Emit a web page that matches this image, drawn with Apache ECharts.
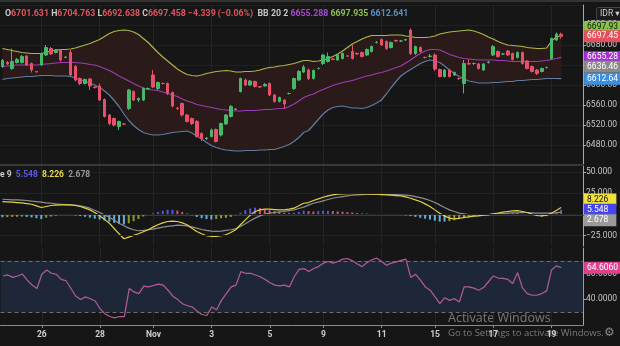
<!DOCTYPE html>
<html><head><meta charset="utf-8">
<script src="https://cdn.jsdelivr.net/npm/echarts@6/dist/echarts.min.js"></script>
<style>html,body{margin:0;padding:0;background:#161616;overflow:hidden}#c{width:620px;height:346px}</style>
</head><body><div id="c"></div>
<script>
// ---- data ----
const slotCount = 120; // 116 bars + empty right margin
const tickLabels = ['26','28','Nov','3','5','9','11','15','17','19'];
const tickBars = [8,20,31,43,55,66,78,89,101,113];

const opens = [6637,6645,6633,6645,6645,6658,6643,6627,6640,6660,6673,6665,6670,6655,6665,6637,6613,6603,6612,6596,6598,6571,6540,6533,6517,6522,6553,6587,6570,6570,6592,6620,6593,6603,6603,6585,6554,6563,6540,6533,6527,6503,6493,6497,6511,6500,6522,6537,6551,6587,6610,6600,6607,6597,6598,6603,6580,6567,6570,6583,6593,6610,6626,6630,6613,6633,6643,6647,6652,6650,6653,6658,6667,6663,6665,6660,6667,6685,6691,6687,6675,6689,6688,6690,6710,6663,6675,6655,6657,6660,6631,6617,6630,6620,6613,6603,6643,6643,6642,6630,6645,6660,6667,6662,6668,6663,6655,6665,6648,6637,6630,6627,6635,6653,6690,6701.631];
const highs = [6652,6648,6673,6654,6660,6660,6645,6628,6665,6680,6676,6672,6672,6657,6670,6640,6615,6613,6614,6597,6603,6573,6542,6535,6529,6523,6592,6589,6575,6595,6595,6630,6607,6605,6605,6587,6556,6565,6542,6535,6530,6505,6496,6513,6513,6525,6542,6560,6554,6615,6613,6610,6609,6598,6604,6605,6582,6577,6572,6585,6615,6630,6640,6633,6631,6635,6662,6665,6654,6662,6665,6660,6680,6665,6667,6673,6679,6688,6693,6689,6687,6691,6690,6692,6713,6679,6677,6657,6662,6663,6633,6632,6632,6627,6615,6650,6651,6645,6644,6644,6648,6680,6669,6664,6670,6665,6667,6667,6650,6639,6632,6635,6637,6695,6705,6704.763];
const lows = [6634,6640,6630,6643,6643,6638,6625,6625,6638,6658,6660,6663,6647,6654,6618,6607,6600,6601,6590,6593,6568,6535,6520,6517,6510,6520,6550,6568,6566,6568,6590,6594,6590,6601,6580,6555,6550,6537,6525,6520,6495,6488,6490,6495,6485,6497,6520,6535,6550,6585,6598,6598,6595,6594,6597,6578,6565,6565,6553,6581,6590,6608,6624,6610,6611,6631,6640,6645,6650,6648,6651,6656,6651,6660,6655,6658,6665,6683,6678,6670,6673,6686,6686,6688,6660,6660,6665,6653,6655,6628,6615,6615,6615,6618,6610,6583,6640,6640,6631,6628,6643,6658,6655,6660,6658,6649,6653,6641,6631,6625,6620,6625,6633,6650,6688,6692.638];
const closes = [6649,6642,6647,6651,6657,6640,6630,6626,6663,6675,6662,6670,6650,6656,6620,6610,6603,6611,6598,6595,6570,6537,6523,6520,6527,6522,6590,6570,6573,6593,6593,6596,6605,6603,6583,6558,6553,6540,6527,6523,6497,6493,6494,6510,6487,6523,6540,6557,6552,6613,6600,6608,6597,6596,6601,6580,6567,6575,6562,6583,6613,6627,6636,6613,6629,6633,6660,6657,6651,6660,6663,6658,6653,6662,6657,6671,6677,6685,6680,6673,6685,6688,6688,6691,6663,6677,6667,6655,6658,6632,6617,6630,6617,6625,6613,6643,6642,6643,6633,6642,6646,6677,6657,6662,6660,6651,6665,6643,6633,6627,6623,6633,6635,6693,6702,6697.458];
const lastChange = -4.339, lastChangePct = -0.06;

const bbUpper = [6673,6671,6669,6667,6665,6664,6663,6663,6663,6665,6668,6670,6671,6671,6672,6674,6677,6680,6683,6687,6691,6697,6703,6707,6709,6710,6709,6706,6701,6693,6685,6675,6665,6656,6648,6640,6632,6626,6621,6619,6618,6620,6623,6625,6627,6628,6629,6628,6626,6626,6627,6627,6628,6630,6633,6635,6636,6638,6639,6641,6643,6646,6649,6649,6647,6648,6650,6653,6657,6662,6668,6675,6682,6687,6692,6696,6699,6699,6699,6699,6700,6700,6700,6698,6697,6695,6695,6695,6696,6698,6702,6704,6706,6707,6708,6709,6710,6708,6705,6701,6696,6692,6687,6683,6680,6679,6678,6677,6675,6674,6673,6673,6674,6688,6696,6697.935];
const bbMid = [6637,6638,6639,6640,6640,6640,6640,6640,6641,6642,6643,6644,6645,6645,6645,6645,6644,6643,6641,6640,6637,6633,6629,6624,6618,6613,6608,6603,6598,6594,6591,6590,6589,6586,6583,6580,6577,6572,6568,6565,6561,6559,6557,6555,6553,6551,6550,6549,6548,6548,6549,6549,6549,6550,6551,6551,6552,6553,6553,6557,6562,6568,6575,6579,6582,6587,6591,6595,6599,6602,6605,6607,6609,6612,6615,6618,6620,6623,6625,6628,6631,6635,6638,6644,6650,6657,6663,6668,6671,6671,6670,6666,6661,6658,6655,6653,6652,6651,6650,6650,6650,6650,6649,6649,6648,6647,6647,6647,6647,6647,6647,6648,6649,6651,6653,6655.288];
const bbLower = [6611,6613,6614,6615,6616,6617,6617,6618,6619,6619,6619,6618,6618,6618,6617,6614,6610,6607,6604,6600,6595,6588,6580,6569,6557,6542,6529,6519,6511,6505,6502,6500,6500,6501,6503,6505,6506,6507,6508,6504,6498,6492,6485,6479,6475,6472,6470,6469,6468,6468,6469,6469,6469,6470,6470,6471,6471,6474,6477,6481,6487,6495,6505,6509,6520,6531,6542,6550,6555,6557,6558,6556,6554,6554,6553,6555,6559,6564,6570,6582,6595,6607,6618,6625,6631,6637,6643,6647,6650,6648,6645,6638,6630,6623,6617,6612,6608,6606,6604,6604,6604,6605,6605,6606,6607,6607,6609,6609,6610,6611,6611,6612,6613,6613,6613,6612.641];
const refPrice = 6636.46;

const macdLine = [15.3,14.9,14.5,14.1,13.7,12.9,12.1,10.2,8.2,9.4,10.6,11.0,11.3,11.3,11.3,10.6,9.4,7.4,5.4,2.3,-1.7,-5.6,-10.4,-16.7,-23.0,-28.9,-26.9,-24.9,-23.0,-20.6,-18.2,-15.1,-12.3,-10.0,-8.4,-8.0,-8.4,-10.0,-12.3,-16.3,-20.2,-23.0,-25.3,-26.1,-26.1,-25.3,-24.2,-21.4,-18.2,-12.3,-6.4,-0.9,3.5,5.4,6.2,6.2,5.8,5.4,5.4,6.2,7.4,10.2,13.3,14.1,16.5,18.4,20.4,22.0,23.2,24.0,24.4,24.8,24.8,24.8,24.4,24.4,24.0,24.0,23.6,23.2,22.8,22.4,22.0,20.8,19.2,17.3,15.3,12.5,9.4,5.4,1.5,-1.7,-4.4,-5.2,-4.8,-3.6,-2.9,-2.1,-1.7,-0.9,-0.5,0.7,1.5,2.7,3.5,4.2,4.6,3.5,2.3,0.3,-1.3,-1.7,-0.9,1.5,4.6,8.226];
const signalLine = [18.0,17.7,17.3,17.3,16.9,16.5,15.7,15.3,14.5,13.7,13.3,12.5,12.1,11.7,11.3,11.0,10.2,9.0,7.4,5.0,2.3,-0.5,-3.3,-6.8,-10.4,-13.5,-16.3,-18.2,-19.4,-19.0,-18.2,-17.5,-16.3,-15.1,-14.3,-13.5,-12.7,-13.1,-13.5,-14.7,-16.3,-17.9,-19.0,-19.8,-20.2,-19.8,-19.0,-18.2,-17.1,-14.3,-11.1,-7.6,-4.4,-1.7,0.3,1.5,2.3,3.1,3.5,4.6,5.4,7.0,8.6,11.0,13.3,14.5,16.1,17.7,19.2,20.4,21.2,22.0,22.8,23.2,23.6,24.0,24.0,24.0,24.0,24.0,23.6,23.6,23.2,22.8,22.4,21.2,20.0,18.4,16.5,14.1,11.3,8.2,5.4,3.5,1.5,0.7,-0.1,-0.5,-0.5,-0.5,-0.1,0.3,0.7,1.1,1.5,1.9,1.9,2.3,2.3,1.9,1.5,1.5,1.5,1.5,1.9,2.678];
const macdHist = [-3.4,-3.2,-3.0,-2.8,-2.6,-3.0,-3.6,-4.5,-5.5,-3.8,-2.5,-1.5,-0.8,-0.4,-0.5,-1.2,-2.0,-2.8,-3.8,-5.0,-6.0,-7.2,-8.5,-10.0,-11.5,-12.0,-10.5,-8.0,-5.5,-2.5,-0.5,1.5,3.0,4.5,5.5,5.5,4.5,3.0,1.2,-1.0,-3.0,-4.5,-5.5,-6.0,-5.5,-4.5,-4.0,-3.0,-1.0,2.0,5.0,7.0,8.0,7.5,6.0,5.0,4.0,3.0,2.0,2.0,2.0,3.0,4.5,4.0,3.5,4.0,4.3,4.3,4.0,3.5,3.2,2.8,2.4,1.8,1.2,1.0,0.6,0.3,0.1,-0.2,-0.4,-0.6,-0.8,-1.2,-2.0,-3.0,-4.0,-5.0,-6.0,-7.5,-8.5,-8.5,-8.0,-7.0,-5.5,-4.5,-3.5,-2.5,-1.5,-0.8,-0.4,0.5,1.0,1.5,1.8,2.0,2.2,1.0,0.5,-0.5,-2.0,-2.5,-2.0,0.5,3.0,5.548];
const macdTicks = [50,25,0,-25];

const rsi = [58.2,59.0,57.1,58.2,59.7,55.0,51.1,48.4,59.5,62.9,60.3,59.5,55.5,54.5,48.4,42.4,39.8,41.9,40.5,38.7,32.7,28.7,26.6,25.6,26.6,26.6,48.4,45.8,44.5,50.3,49.7,50.8,51.9,51.1,47.1,42.4,39.8,36.6,35.0,34.0,30.8,28.2,27.4,34.0,31.9,39.2,44.5,49.7,51.1,61.6,60.3,60.3,59.0,57.6,55.5,52.9,51.1,50.5,51.1,49.7,57.6,63.4,64.0,61.6,64.0,65.5,68.2,69.5,68.2,69.5,71.3,71.8,70.0,67.6,65.5,68.7,70.8,72.1,69.5,66.6,68.2,69.2,70.3,71.3,57.1,59.5,55.0,49.7,47.1,41.9,36.6,41.3,39.2,40.5,37.9,49.7,49.7,48.7,47.1,49.2,53.7,58.2,56.6,56.3,55.5,52.4,60.8,49.0,44.5,43.2,43.2,44.5,46.6,62.9,66.1,64.606];
const rsiUpper = 70, rsiLower = 30;

// ---- build ----
const FONT = 'Roboto, "DejaVu Sans", sans-serif';
const cats = Array.from({length: slotCount}, (_, i) => String(i));
const labelAt = {};
tickBars.forEach((b, k) => { labelAt[b] = tickLabels[k]; });
const hasLabel = (idx) => labelAt[idx] !== undefined;
const last = closes.length - 1;
const trunc2 = v => (Math.floor(v * 100 + 1e-6) / 100).toFixed(2);

const C = {
  bg: '#161616', up: '#45b86a', down: '#e6506a',
  upper: '#adb64a', mid: '#9e3cb4', lower: '#5e7ea3', fill: '#2a1a19',
  macd: '#e3cf48', signal: '#8e8e8e', rsi: '#b65b9a', rsiBand: '#1e2737',
  grid: '#242424', axis: '#a8a8a8', text: '#c6c6c6'
};
const histColor = macdHist.map((v, i) => {
  const p = i > 0 ? macdHist[i - 1] : v;
  if (v >= 0) return v >= p ? '#5656e0' : '#d2546f';
  return v <= p ? '#62b2de' : '#8d9a2c';
});

function tag(value, text, bg, fg, off) {
  return { yAxis: value, label: { show: true, position: 'end', distance: 1, offset: [0, off || 0],
    formatter: () => text, color: fg, opacity: 1, backgroundColor: bg, padding: [2, 8, 1, 3],
    fontSize: 8.5, fontFamily: FONT } };
}
const clearLine = { color: 'rgba(0,0,0,0)', width: 0 };
const hiddenLine = { opacity: 0 };

const xBase = (gi) => ({
  type: 'category', gridIndex: gi, data: cats, boundaryGap: true,
  axisLine: { show: true, lineStyle: { color: gi === 2 ? '#8a8a8a' : '#383838', width: gi === 2 ? 1 : 2 } },
  axisTick: { show: gi === 2, alignWithLabel: true, interval: (i) => hasLabel(i), length: 3, lineStyle: { color: '#8a8a8a' } },
  axisLabel: { show: gi === 2, interval: 0, margin: 5, fontSize: 8.5, fontWeight: 'bold', color: '#cfcfcf', fontFamily: FONT,
    formatter: (v, i) => labelAt[i] || '' },
  splitLine: { show: true, alignWithLabel: true, interval: (i) => hasLabel(i), lineStyle: { color: C.grid, width: 1 } }
});
const yBase = {
  type: 'value', position: 'right',
  axisLine: { show: true, lineStyle: { color: C.axis } },
  axisTick: { show: true, length: 3, lineStyle: { color: C.axis } },
  axisLabel: { margin: 3, fontSize: 8.5, color: C.text, fontFamily: FONT }
};
const HF = 8.8;

const option = {
  backgroundColor: C.bg,
  animation: false,
  title: [
    { left: 5, top: 9, padding: 0, textStyle: { fontSize: HF, fontFamily: FONT, rich: {
        k: { color: '#c8c8c8', fontSize: HF, fontFamily: FONT },
        r: { color: '#e0535f', fontSize: HF, fontFamily: FONT },
        p: { color: '#a64bd0', fontSize: HF, fontFamily: FONT },
        g: { color: '#8cc152', fontSize: HF, fontFamily: FONT },
        b: { color: '#5b8fc9', fontSize: HF, fontFamily: FONT } } },
      text: `{k|O}{r|${opens[last].toFixed(3)}} {k|H}{r|${highs[last].toFixed(3)}} {k|L}{r|${lows[last].toFixed(3)}} {k|C}{r|${closes[last].toFixed(3)}} {r|${String(lastChange).replace('-', '\u2212')} (${String(lastChangePct.toFixed(2)).replace('-', '\u2212')}%)}  {k|BB 20 2} {p|${bbMid[last].toFixed(3)}} {g|${bbUpper[last].toFixed(3)}} {b|${bbLower[last].toFixed(3)}}` },
    { left: 0, top: 170, padding: 0, textStyle: { fontSize: 8.5, fontFamily: FONT, rich: {
        k: { color: '#c8c8c8', fontSize: 8.5, fontFamily: FONT },
        h: { color: '#5a5ae8', fontSize: 8.5, fontFamily: FONT },
        m: { color: '#e8d84a', fontSize: 8.5, fontFamily: FONT, fontWeight: 'bold' },
        s: { color: '#9a9a9a', fontSize: 8.5, fontFamily: FONT } } },
      text: `{k|e 9}  {h|${macdHist[last].toFixed(3)}}  {m|${macdLine[last].toFixed(3)}}  {s|${signalLine[last].toFixed(3)}}` }
  ],
  grid: [
    { left: 0, right: 32, top: 5, height: 160 },
    { left: 0, right: 32, top: 166, height: 80 },
    { left: 0, right: 32, top: 248, height: 77 }
  ],
  xAxis: [xBase(0), xBase(1), xBase(2)],
  yAxis: [
    Object.assign({}, yBase, { gridIndex: 0, min: 6440, max: 6760, interval: 40,
      axisLabel: Object.assign({}, yBase.axisLabel, { showMinLabel: false, showMaxLabel: false, formatter: v => v.toFixed(2) }),
      splitLine: { show: true, lineStyle: { color: '#202020' } } }),
    Object.assign({}, yBase, { gridIndex: 1, min: -37.5, max: 57.5, interval: 12.5,
      axisTick: { show: true, length: 3, customValues: macdTicks, lineStyle: { color: C.axis } },
      axisLabel: Object.assign({}, yBase.axisLabel, { customValues: macdTicks,
        formatter: v => macdTicks.indexOf(v) >= 0 ? v.toFixed(3).replace('-', '\u2212') : '' }),
      splitLine: { show: false } }),
    Object.assign({}, yBase, { gridIndex: 2, min: 20, max: 80, interval: 20,
      axisLabel: Object.assign({}, yBase.axisLabel, { showMinLabel: false, showMaxLabel: false, formatter: v => v.toFixed(4) }),
      splitLine: { show: false } })
  ],
  series: [
    { name: 'bbBase', type: 'line', z: 1, xAxisIndex: 0, yAxisIndex: 0, data: bbLower, stack: 'bb', symbol: 'none', silent: true, lineStyle: hiddenLine },
    { name: 'bbFill', type: 'line', z: 1, xAxisIndex: 0, yAxisIndex: 0, data: bbUpper.map((u, i) => u - bbLower[i]), stack: 'bb', symbol: 'none', silent: true,
      lineStyle: hiddenLine, areaStyle: { color: C.fill, opacity: 1 } },
    { name: 'upper', type: 'line', z: 2, xAxisIndex: 0, yAxisIndex: 0, data: bbUpper, symbol: 'none', lineStyle: { color: C.upper, width: 1.2 } },
    { name: 'lower', type: 'line', z: 2, xAxisIndex: 0, yAxisIndex: 0, data: bbLower, symbol: 'none', lineStyle: { color: C.lower, width: 1.2 } },
    { name: 'basis', type: 'line', z: 2, xAxisIndex: 0, yAxisIndex: 0, data: bbMid, symbol: 'none', lineStyle: { color: C.mid, width: 1.2 } },
    { name: 'price', type: 'candlestick', z: 5, xAxisIndex: 0, yAxisIndex: 0, barWidth: 3, large: false, progressive: 0,
      data: opens.map((o, i) => [o, closes[i], lows[i], highs[i]]),
      itemStyle: { color: C.up, color0: C.down, borderColor: C.up, borderColor0: C.down, borderWidth: 1 },
      markLine: { silent: true, symbol: ['none', 'none'], animation: false, lineStyle: clearLine,
        data: [
          tag(bbUpper[last], trunc2(bbUpper[last]), '#86c545', '#111', -9),
          tag(closes[last], trunc2(closes[last]), '#e6505e', '#fff'),
          tag(bbMid[last], trunc2(bbMid[last]), '#a62fd8', '#fff'),
          tag(refPrice, trunc2(refPrice), '#8a8a8a', '#fff'),
          tag(bbLower[last], trunc2(bbLower[last]), '#3d8fe0', '#fff')
        ] } },
    { name: 'hist', type: 'bar', z: 2, xAxisIndex: 1, yAxisIndex: 1, barWidth: 2,
      data: macdHist.map((v, i) => ({ value: v, itemStyle: { color: histColor[i] } })),
      markLine: { silent: true, symbol: ['none', 'none'], animation: false, label: { show: false },
        lineStyle: { color: '#222', type: 'solid', width: 1 }, data: macdTicks.map(v => ({ yAxis: v })) } },
    { name: 'signal', type: 'line', z: 3, xAxisIndex: 1, yAxisIndex: 1, data: signalLine, symbol: 'none', lineStyle: { color: C.signal, width: 1.2 } },
    { name: 'macd', type: 'line', z: 4, xAxisIndex: 1, yAxisIndex: 1, data: macdLine, symbol: 'none', lineStyle: { color: C.macd, width: 1.2 },
      markLine: { silent: true, symbol: ['none', 'none'], animation: false, lineStyle: clearLine,
        data: [
          tag(macdLine[last], macdLine[last].toFixed(3), '#f0e03a', '#111', -8),
          tag(macdHist[last], macdHist[last].toFixed(3), '#4646ee', '#fff'),
          tag(signalLine[last], signalLine[last].toFixed(3), '#9a9a9a', '#fff', 8)
        ] } },
    { name: 'rsiBand', type: 'line', z: 1, xAxisIndex: 2, yAxisIndex: 2, data: rsi, symbol: 'none', silent: true, lineStyle: hiddenLine,
      markArea: { silent: true, itemStyle: { color: C.rsiBand }, data: [[{ yAxis: rsiLower }, { yAxis: rsiUpper }]] },
      markLine: { silent: true, symbol: ['none', 'none'], animation: false, label: { show: false },
        lineStyle: { color: '#6e6e6e', type: [4, 3], width: 1 }, data: [{ yAxis: rsiUpper }, { yAxis: rsiLower }] } },
    { name: 'rsi', type: 'line', z: 3, xAxisIndex: 2, yAxisIndex: 2, data: rsi, symbol: 'none', lineStyle: { color: C.rsi, width: 1.2 },
      markLine: { silent: true, symbol: ['none', 'none'], animation: false, lineStyle: clearLine,
        data: [tag(rsi[last], rsi[last].toFixed(4), '#e0408c', '#fff')] } }
  ],
  graphic: [
    { type: 'rect', left: 0, top: 0, shape: { width: 620, height: 2 }, style: { fill: '#333' }, silent: true },
    { type: 'rect', left: 596, top: 7, shape: { width: 30, height: 13, r: 2 }, style: { fill: '#1b1b1b', stroke: '#454545' }, silent: true },
    { type: 'text', left: 600, top: 9, style: { text: 'IDR \u25BE', fill: '#d0d0d0', font: '8.5px ' + FONT }, silent: true },
    { type: 'text', left: 448, top: 312, style: { text: 'Activate Windows', fill: 'rgba(200,200,200,0.55)', font: '12.5px "Open Sans", sans-serif' }, silent: true },
    { type: 'text', left: 448, top: 328, style: { text: 'Go to Settings to activate Windows.', fill: 'rgba(200,200,200,0.55)', font: '9.5px "Open Sans", sans-serif' }, silent: true },
    { type: 'text', left: 604, top: 327, style: { text: '\u2699', fill: '#8a8a8a', font: '12px "DejaVu Sans", sans-serif' }, silent: true }
  ]
};
const chart = echarts.init(document.getElementById('c'), null, { renderer: 'canvas', width: 620, height: 346 });
chart.setOption(option);
</script>
</body></html>
